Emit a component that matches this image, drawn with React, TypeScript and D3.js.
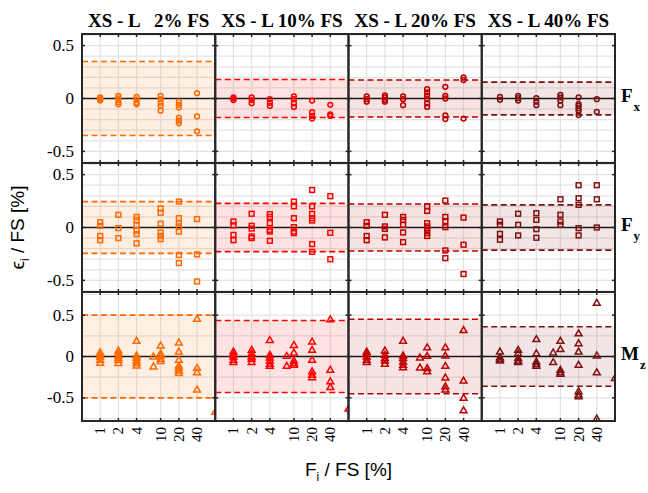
import * as d3 from "d3";

// categories on the log x axis (F_i / FS in %)
const categories = [1, 2, 4, 10, 20, 40];
const panelTitles = ["XS - L   2% FS", "XS - L 10% FS", "XS - L 20% FS", "XS - L 40% FS"];
const panelColors = ["#ff6a00", "#ff0000", "#c00000", "#7f1010"];
const rowLabels = [["F", "x"], ["F", "y"], ["M", "z"]];
const yTicks = [-0.5, 0, 0.5];

// tolerance band (+/-) per panel
const tolFx = [0.35, 0.18, 0.175, 0.155];
const tolFy = [0.245, 0.228, 0.222, 0.214];
const tolMz = [0.5, 0.435, 0.45, 0.36];

type Group = [number, number[]];

// Fx errors
const fx02: Group[] = [
  [1, [0.01, 0, -0.01, -0.02]],
  [2, [0.025, 0, -0.035, -0.055]],
  [4, [0.015, -0.01, -0.04, -0.055]],
  [10, [0.025, -0.005, -0.04, -0.07, -0.115]],
  [20, [-0.03, -0.06, -0.085, -0.18, -0.21, -0.235]],
  [40, [0.05, -0.17, -0.31]],
];
const fx10: Group[] = [
  [1, [0.01, 0, -0.015]],
  [2, [0.01, -0.015, -0.045]],
  [4, [-0.006, -0.04, -0.07]],
  [10, [0.02, -0.006, -0.045, -0.08]],
  [20, [-0.02, -0.13, -0.165, -0.19]],
  [40, [-0.06, -0.15, -0.165]],
];
const fx20: Group[] = [
  [1, [0.02, -0.006, -0.03]],
  [2, [0.03, 0.01, -0.013, -0.03]],
  [4, [0.02, -0.006, -0.063]],
  [10, [0.088, 0.057, 0.025, -0.006, -0.045, -0.08]],
  [20, [0.11, 0.025, 0.0, -0.16, -0.195]],
  [40, [0.2, 0.175, -0.19]],
];
const fx40: Group[] = [
  [1, [0.015, -0.013]],
  [2, [0.025, 0.003, -0.02]],
  [4, [0.003, -0.03, -0.063]],
  [10, [0.035, 0.01, -0.02, -0.063]],
  [20, [0.01, -0.053, -0.07, -0.094, -0.116, -0.157]],
  [40, [-0.006, -0.126]],
];

// Fy errors
const fy02: Group[] = [
  [1, [0.05, 0.016, -0.08, -0.12]],
  [2, [0.12, -0.006, -0.1]],
  [4, [0.1, 0.072, 0.02, -0.03, -0.063, -0.15]],
  [10, [0.18, 0.14, 0.035, -0.047, -0.08, -0.11]],
  [20, [0.245, 0.088, 0.04, 0.01, -0.038, -0.26, -0.336]],
  [40, [0.08, -0.255, -0.51]],
];
const fy10: Group[] = [
  [1, [0.057, 0.02, -0.07, -0.12]],
  [2, [0.13, 0.016, -0.01, -0.085, -0.1]],
  [4, [0.126, 0.1, 0.04, -0.022, -0.038, -0.126]],
  [10, [0.245, 0.2, 0.088, 0.003, -0.038, -0.053]],
  [20, [0.355, 0.2, 0.13, 0.088, 0.066, -0.157, -0.23]],
  [40, [0.296, -0.05, -0.3]],
];
const fy20: Group[] = [
  [1, [0.05, 0.016, -0.08, -0.12]],
  [2, [0.12, 0.01, -0.013, -0.094]],
  [4, [0.1, 0.072, 0.025, -0.047, -0.138]],
  [10, [0.2, 0.157, 0.04, 0.01, -0.022, -0.053, -0.08]],
  [20, [0.255, 0.1, 0.06, 0.003, -0.217, -0.29]],
  [40, [0.094, -0.163, -0.44]],
];
const fy40: Group[] = [
  [1, [0.057, 0.025, -0.06, -0.116]],
  [2, [0.13, 0.025, -0.075]],
  [4, [0.135, 0.072, -0.016, -0.097]],
  [10, [0.267, 0.12, 0.057, 0.025]],
  [20, [0.4, 0.277, 0.214, -0.006, -0.075]],
  [40, [0.4, 0.267, 0]],
];

// Mz errors
const mz02: Group[] = [
  [1, [0.052, 0.02, -0.008, -0.04, -0.077]],
  [2, [0.073, 0.044, 0.012, -0.016, -0.04, -0.08]],
  [4, [0.19, 0.012, -0.016, -0.048, -0.08, -0.11]],
  [7.6, [0, -0.12]],
  [10, [0.133, 0.04, 0.012, -0.028, -0.056]],
  [20, [0.17, 0.06, -0.04, -0.11, -0.14, -0.17, -0.2]],
  [40, [0.455, -0.137, -0.19, -0.4]],
  [80, [-0.67]],
];
const mz10: Group[] = [
  [1, [0.06, 0.028, 0, -0.04, -0.068]],
  [2, [0.08, 0.04, 0, -0.028, -0.068]],
  [4, [0.2, 0.02, -0.012, -0.048, -0.089, -0.113]],
  [7.6, [0.008, -0.113]],
  [10, [0.14, 0.048, -0.048, -0.08, -0.1]],
  [20, [0.18, 0.08, -0.04, -0.18, -0.22, -0.25]],
  [40, [0.45, -0.16, -0.3, -0.37]],
  [80, [-0.63]],
];
const mz20: Group[] = [
  [1, [0.06, 0.032, 0, -0.04, -0.068]],
  [2, [0.073, 0.02, -0.02, -0.048, -0.089]],
  [4, [0.19, 0.012, -0.02, -0.06, -0.1, -0.13]],
  [7.6, [-0.012, -0.133]],
  [10, [0.11, 0.008, -0.14, -0.18]],
  [20, [0.11, 0.012, -0.113, -0.254, -0.36, -0.4]],
  [40, [0.32, -0.29, -0.5, -0.65]],
];
const mz40: Group[] = [
  [1, [0.06, -0.01, -0.03, -0.05]],
  [2, [0.08, 0.04, -0.02, -0.048, -0.068]],
  [4, [0.21, 0.04, -0.06, -0.09, -0.113]],
  [7.6, [0.048, -0.068]],
  [10, [0.19, 0.089, -0.16, -0.19, -0.21]],
  [20, [0.28, 0.16, 0.06, -0.1, -0.42, -0.46, -0.48]],
  [40, [0.65, 0.012, -0.19, -0.75]],
  [80, [-0.26]],
];

const rows = [
  { shape: "circle", tol: tolFx, data: [fx02, fx10, fx20, fx40], yMax: 0.61, grid: 0.1 },
  { shape: "square", tol: tolFy, data: [fy02, fy10, fy20, fy40], yMax: 0.61, grid: 0.1 },
  { shape: "triangle", tol: tolMz, data: [mz02, mz10, mz20, mz40], yMax: 0.78, grid: 0.25 },
];

const W = 648;
const H = 493;
const margin = { top: 34, left: 82, right: 33, bottom: 72 };
const plotW = W - margin.left - margin.right;
const plotH = H - margin.top - margin.bottom;
const panelW = plotW / 4;
const rowH = plotH / 3;

const serif = "'Liberation Serif', 'Times New Roman', serif";
const sans = "'Liberation Sans', Arial, sans-serif";
const axisColor = "#262626";

const triPath = d3.symbol().type(d3.symbolTriangle).size(20)()!;

function Marker({ shape, x, y, color }) {
  const common = { fill: "none", stroke: color, strokeWidth: 1.5 };
  if (shape === "circle") return <circle cx={x} cy={y} r={2.4} {...common} />;
  if (shape === "square")
    return <rect x={x - 2.4} y={y - 2.4} width={4.8} height={4.8} {...common} />;
  return <path d={triPath} transform={`translate(${x},${y + 0.5})`} {...common} />;
}

export default function App() {
  return (
    <svg
      width={W}
      height={H}
      style={{ position: "absolute", left: 0, top: 0, background: "#fff" }}
    >
      {rows.map((row, r) => {
        const y0 = margin.top + r * rowH;
        const yScale = d3
          .scaleLinear()
          .domain([-row.yMax, row.yMax])
          .range([y0 + rowH, y0]);
        const nGrid = Math.floor(row.yMax / row.grid + 1e-9);
        const gridVals = d3.range(-nGrid, nGrid + 1).map((k) => k * row.grid);
        return (
          <g key={r}>
            {panelColors.map((color, c) => {
              const x0 = margin.left + c * panelW;
              const xScale = d3.scaleLog().domain([0.5, 80]).range([x0, x0 + panelW]);
              const tol = row.tol[c];
              const clipId = `clip-${r}-${c}`;
              return (
                <g key={c}>
                  <defs>
                    <clipPath id={clipId}>
                      <rect x={x0} y={y0} width={panelW} height={rowH} />
                    </clipPath>
                  </defs>
                  {/* grid */}
                  {gridVals.map((v, i) => (
                    <line
                      key={`h${i}`}
                      x1={x0}
                      x2={x0 + panelW}
                      y1={yScale(v)}
                      y2={yScale(v)}
                      stroke="#e3e3e3"
                      strokeWidth={1.2}
                    />
                  ))}
                  {categories.map((v) => (
                    <line
                      key={`v${v}`}
                      x1={xScale(v)}
                      x2={xScale(v)}
                      y1={y0}
                      y2={y0 + rowH}
                      stroke="#e3e3e3"
                      strokeWidth={1.2}
                    />
                  ))}
                  {/* tolerance band */}
                  <rect
                    x={x0}
                    width={panelW}
                    y={yScale(tol)}
                    height={yScale(-tol) - yScale(tol)}
                    fill={color}
                    fillOpacity={0.11}
                  />
                  {[tol, -tol].map((t, i) => (
                    <line
                      key={`d${i}`}
                      x1={x0}
                      x2={x0 + panelW}
                      y1={yScale(t)}
                      y2={yScale(t)}
                      stroke={color}
                      strokeWidth={1.6}
                      strokeDasharray="6,3.5"
                    />
                  ))}
                  <line
                    x1={x0}
                    x2={x0 + panelW}
                    y1={yScale(0)}
                    y2={yScale(0)}
                    stroke="#1a1a1a"
                    strokeWidth={1.3}
                  />
                  <g clipPath={`url(#${clipId})`}>
                    {row.data[c].flatMap(([xv, ys], gi) =>
                      ys.map((yv, k) => (
                        <Marker
                          key={`${gi}-${k}`}
                          shape={row.shape}
                          x={xScale(xv)}
                          y={yScale(yv)}
                          color={color}
                        />
                      )),
                    )}
                  </g>
                  {/* ticks */}
                  {categories.map((v) => (
                    <g key={`t${v}`} stroke={axisColor} strokeWidth={1.5}>
                      <line x1={xScale(v)} x2={xScale(v)} y1={y0} y2={y0 + 3} />
                      <line x1={xScale(v)} x2={xScale(v)} y1={y0 + rowH} y2={y0 + rowH - 3} />
                    </g>
                  ))}
                  {yTicks.map((v) => (
                    <g key={`yt${v}`} stroke={axisColor} strokeWidth={1.5}>
                      <line x1={x0} x2={x0 + 3} y1={yScale(v)} y2={yScale(v)} />
                      <line
                        x1={x0 + panelW}
                        x2={x0 + panelW - 3}
                        y1={yScale(v)}
                        y2={yScale(v)}
                      />
                    </g>
                  ))}
                  <rect
                    x={x0}
                    y={y0}
                    width={panelW}
                    height={rowH}
                    fill="none"
                    stroke={axisColor}
                    strokeWidth={2}
                  />
                  {/* titles */}
                  {r === 0 && (
                    <text
                      x={x0 + panelW / 2}
                      y={y0 - 7}
                      textAnchor="middle"
                      fontFamily={serif}
                      fontWeight="bold"
                      fontSize={19}
                      style={{ whiteSpace: "pre" }}
                    >
                      {panelTitles[c]}
                    </text>
                  )}
                  {/* x tick labels */}
                  {r === 2 &&
                    categories.map((v) => (
                      <text
                        key={`xl${v}`}
                        transform={`translate(${xScale(v)},${y0 + rowH + 6}) rotate(-90)`}
                        textAnchor="end"
                        dominantBaseline="central"
                        fontFamily={serif}
                        fontSize={15}
                      >
                        {v}
                      </text>
                    ))}
                </g>
              );
            })}
            {/* y tick labels */}
            {yTicks.map((v) => (
              <text
                key={`yl${v}`}
                x={margin.left - 8}
                y={yScale(v)}
                textAnchor="end"
                dominantBaseline="central"
                fontFamily={serif}
                fontSize={17}
              >
                {v === 0 ? "0" : v.toString()}
              </text>
            ))}
            {/* row label */}
            <text
              x={margin.left + plotW + 6}
              y={yScale(0) + 3}
              fontFamily={serif}
              fontWeight="bold"
              fontSize={19}
            >
              {rowLabels[r][0]}
              <tspan dx={1} dy={9} fontSize={13}>
                {rowLabels[r][1]}
              </tspan>
            </text>
          </g>
        );
      })}
      {/* axis labels */}
      <text
        transform={`translate(24,${margin.top + plotH / 2}) rotate(-90)`}
        textAnchor="middle"
        fontFamily={sans}
        fontSize={19}
      >
        ϵ
        <tspan dy={5} fontSize={12}>
          i
        </tspan>
        <tspan dy={-5}> / FS [%]</tspan>
      </text>
      <text
        x={margin.left + plotW / 2}
        y={476}
        textAnchor="middle"
        fontFamily={sans}
        fontSize={19}
      >
        F
        <tspan dy={5} fontSize={12}>
          i
        </tspan>
        <tspan dy={-5}> / FS [%]</tspan>
      </text>
    </svg>
  );
}
